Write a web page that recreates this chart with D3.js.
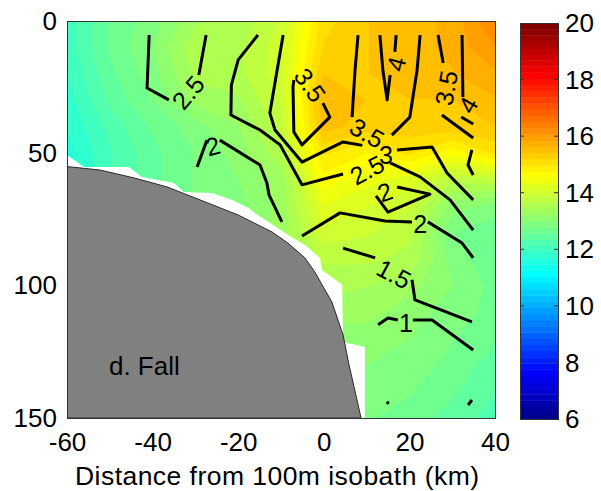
<!DOCTYPE html>
<html>
<head>
<meta charset="utf-8">
<script src="https://cdn.jsdelivr.net/npm/d3@7"></script>
<style>
  body { margin: 0; background: #fff; }
</style>
</head>
<body>
<script>
// temperature section (filled), km from the 100 m isobath vs depth
const kmGrid = [-60, -50, -40, -30, -20, -10, 0, 10, 20, 30, 40];
const depthGrid = [0, 10, 20, 30, 40, 50, 60, 70, 80, 90, 100, 110, 120, 130, 140, 150];
const tempGrid = [
  [12.0, 12.6, 12.9, 13.4, 13.5, 13.9, 15.1, 15.4, 15.5, 15.7, 16.3],
  [12.0, 12.6, 13.0, 13.6, 13.6, 14.0, 15.2, 15.4, 15.5, 15.7, 16.05],
  [11.9, 12.5, 12.9, 13.5, 13.6, 14.0, 15.4, 15.4, 15.5, 15.6, 15.8],
  [11.8, 12.4, 12.8, 13.3, 13.4, 13.9, 15.6, 15.4, 15.4, 15.4, 15.6],
  [11.7, 12.2, 12.6, 12.9, 13.2, 13.8, 15.5, 15.3, 15.3, 15.3, 15.4],
  [11.6, 12.1, 12.5, 12.8, 13.1, 13.6, 15.0, 14.75, 15.0, 14.6, 15.0],
  [11.6, 12.1, 12.5, 12.8, 13.0, 13.3, 14.65, 14.4, 14.2, 13.7, 13.8],
  [11.6, 12.1, 12.5, 12.8, 12.9, 13.3, 14.3, 14.1, 13.9, 13.1, 12.9],
  [11.6, 12.1, 12.5, 12.8, 12.9, 13.3, 14.0, 13.9, 13.7, 12.8, 12.6],
  [11.6, 12.1, 12.5, 12.8, 12.9, 13.2, 13.7, 13.7, 13.6, 12.9, 12.6],
  [11.6, 12.1, 12.5, 12.8, 12.9, 13.1, 13.5, 13.45, 13.3, 13.0, 12.7],
  [11.6, 12.1, 12.5, 12.8, 12.9, 13.0, 13.3, 13.3, 13.1, 12.9, 12.7],
  [11.6, 12.1, 12.5, 12.8, 12.9, 13.0, 13.1, 13.1, 13.0, 12.8, 12.6],
  [11.6, 12.1, 12.5, 12.8, 12.9, 12.9, 13.0, 13.0, 12.9, 12.7, 12.45],
  [11.6, 12.1, 12.5, 12.8, 12.9, 12.9, 12.9, 12.9, 12.8, 12.6, 12.35],
  [11.6, 12.1, 12.5, 12.8, 12.8, 12.8, 12.8, 12.8, 12.7, 12.45, 12.25]
];

// no-data area above the bottom, and the bottom itself
const noDataEdge = [[-60, 50.6], [-56.0, 55.2], [-45.5, 55.2], [-42.5, 58.9], [-35.0, 61.2], [-32.7, 64.6],
  [-26.1, 65.0], [-21.4, 67.6], [-17.7, 70.6], [-15.4, 73.3], [-8.4, 80.8], [-4.4, 84.6], [-0.9, 89.5],
  [-0.4, 94.1], [4.3, 99.7], [4.5, 121.3], [9.6, 123.2], [9.6, 150]];
const bottomEdge = [[-60, 55.0], [-52.3, 56.3], [-44.3, 59.3], [-36.6, 62.7], [-28.9, 67.6], [-20.0, 73.3],
  [-12.1, 79.7], [-8.4, 83.9], [-4.4, 89.5], [-2.1, 94.8], [-0.4, 99.7], [1.9, 106.2], [4.5, 118.6],
  [5.9, 130.0], [7.5, 141.3], [8.7, 150]];

// black contour lines (pieces between labels)
const iso25WestA = [[-40.8, 5.3], [-41.3, 25.3], [-36.2, 29.8]];
const iso25WestB = [[-29.2, 20.4], [-27.5, 5.3]];
const iso2WestA = [[-29.6, 55.2], [-27.3, 45.0]];
const iso2WestB = [[-24.3, 45.0], [-14.9, 54.4], [-13.3, 61.2], [-12.8, 65.7], [-9.8, 75.9]];
const iso25MidA = [[-15.4, 5.3], [-20.0, 14.7], [-21.6, 24.2], [-21.7, 35.5], [-14.9, 41.2], [-10.2, 46.8], [-5.1, 61.9], [4.5, 57.8]];
const iso25MidB = [[15.5, 53.6], [22.5, 58.9], [29.5, 67.6], [34.9, 79.0]];
const iso3A = [[-9.5, 5.3], [-10.9, 18.5], [-12.6, 34.8], [-11.4, 41.2], [-5.1, 53.3], [4.5, 45.7], [9.0, 47.0]];
const iso3B = [[17.1, 48.7], [25.3, 47.6], [28.8, 57.4], [34.9, 67.6]];
const iso35Loop = [[-0.2, 31.0], [1.4, 36.3], [-5.1, 46.8], [-7.0, 41.9], [-7.2, 24.9], [-7.0, 22.3]];
const iso35UA = [[8.0, 5.3], [7.3, 18.5], [6.6, 36.3]];
const iso35UB = [[15.9, 43.1], [20.1, 36.3], [21.8, 18.5], [22.5, 5.3]];
const iso4VA = [[13.1, 5.3], [13.8, 18.5], [14.8, 29.8], [15.5, 20.4]];
const iso4VB = [[16.6, 11.7], [16.9, 5.3]];
const iso35EastA = [[26.7, 5.3], [27.9, 15.9]];
const iso35EastB = [[27.6, 35.5], [34.9, 44.2]];
const iso4EastA = [[32.3, 5.3], [32.5, 28.7]];
const iso4EastB = [[32.1, 36.3], [34.9, 38.9]];
const iso3East = [[34.6, 48.7], [33.7, 54.4], [34.9, 58.2]];
const iso2Tri = [[17.1, 62.7], [24.8, 65.4], [15.0, 72.2], [12.2, 66.1]];
const iso2EastA = [[-5.1, 81.2], [3.8, 72.5], [14.3, 75.6], [20.6, 75.9]];
const iso2EastB = [[24.3, 75.9], [32.3, 83.9], [34.9, 89.5]];
const iso15A = [[4.5, 85.8], [12.0, 89.5]];
const iso15B = [[20.6, 97.8], [21.3, 105.4], [34.6, 113.7]];
const iso1A = [[12.7, 114.8], [15.0, 112.2], [17.3, 113.0]];
const iso1B = [[20.8, 113.0], [25.3, 113.0], [34.9, 124.3]];
const isoBits = [[[14.7, 143.9], [15.2, 144.6]], [[33.7, 145.1], [34.6, 143.2]]];

// contour labels: text, km, depth, angle
const isoLabels = [
  ['2.5', -31.7, 27.0, -50], ['2', -25.9, 47.2, -15], ['2.5', 10.1, 56.3, -28],
  ['3', 14.5, 50.6, 0], ['3.5', -3.2, 24.2, 55], ['3.5', 10.1, 42.3, 30],
  ['4', 16.9, 16.2, -75], ['3.5', 28.6, 25.3, -80], ['4', 33.7, 31.7, -60],
  ['2', 14.3, 64.6, -20], ['2', 22.5, 76.7, 0], ['1.5', 16.4, 95.6, 28], ['1', 19.2, 114.1, 0]
];

const xTicks = [-60, -40, -20, 0, 20, 40];
const yTicks = [0, 50, 100, 150];
const cbTicks = [6, 8, 10, 12, 14, 16, 18, 20];
const cLim = [6, 20];

const width = 601;
const height = 491;
const FONT = '"Liberation Sans", Arial, Helvetica, sans-serif';

// matlab jet(64)
function jet64() {
  const out = [];
  for (let row = 1; row <= 64; row++) {
    let r = 0, g = 0, b = 0;
    if (row >= 25 && row <= 40) r = (row - 24) / 16;
    else if (row >= 41 && row <= 55) r = 1;
    else if (row >= 56) r = (72 - row) / 16;
    if (row >= 9 && row <= 24) g = (row - 8) / 16;
    else if (row >= 25 && row <= 39) g = 1;
    else if (row >= 40 && row <= 55) g = (56 - row) / 16;
    if (row <= 8) b = (row + 8) / 16;
    else if (row <= 23) b = 1;
    else if (row <= 39) b = (40 - row) / 16;
    out.push(d3.rgb(r * 255, g * 255, b * 255).formatHex());
  }
  return out;
}
const jet = jet64();
const step = (cLim[1] - cLim[0]) / jet.length;

const svg = d3.select('body').append('svg')
  .attr('width', width)
  .attr('height', height);

const x = d3.scaleLinear().domain([-60, 40]).range([67, 495]);
const y = d3.scaleLinear().domain([0, 150]).range([21, 418]);

svg.append('clipPath').attr('id', 'plot')
  .append('rect')
  .attr('x', x(-60)).attr('y', y(0))
  .attr('width', x(40) - x(-60)).attr('height', y(150) - y(0));

const plot = svg.append('g').attr('clip-path', 'url(#plot)');

// filled contours
const nx = kmGrid.length, ny = depthGrid.length;
const gx = d3.scaleLinear().domain([0.5, nx - 0.5]).range([x(kmGrid[0]), x(kmGrid[nx - 1])]);
const gy = d3.scaleLinear().domain([0.5, ny - 0.5]).range([y(depthGrid[0]), y(depthGrid[ny - 1])]);
const gridPath = d3.geoPath(d3.geoTransform({
  point(px, py) { this.stream.point(gx(px), gy(py)); }
}));
const thresholds = jet.map((c, k) => cLim[0] + k * step);
const bands = d3.contours().size([nx, ny]).thresholds(thresholds)(tempGrid.flat());

plot.selectAll('path.band')
  .data(bands)
  .join('path')
  .attr('class', 'band')
  .attr('d', gridPath)
  .attr('fill', (d, i) => jet[i])
  .attr('stroke', (d, i) => jet[i])
  .attr('stroke-width', 0.6);

// masked + bottom
const area = d3.line().x(d => x(d[0])).y(d => y(d[1]));
plot.append('path')
  .attr('d', area(noDataEdge.concat([[-60, 150]])) + 'Z')
  .attr('fill', '#fff');
plot.append('path')
  .attr('d', area(bottomEdge.concat([[-60, 150]])) + 'Z')
  .attr('fill', '#808080')
  .attr('stroke', '#2a2a2a')
  .attr('stroke-width', 1);

// contour lines
const pieces = [iso25WestA, iso25WestB, iso2WestA, iso2WestB, iso25MidA, iso25MidB, iso3A, iso3B,
  iso35Loop, iso35UA, iso35UB, iso4VA, iso4VB, iso35EastA, iso35EastB, iso4EastA, iso4EastB,
  iso3East, iso2Tri, iso2EastA, iso2EastB, iso15A, iso15B, iso1A, iso1B].concat(isoBits);

plot.selectAll('path.iso')
  .data(pieces)
  .join('path')
  .attr('class', 'iso')
  .attr('d', area)
  .attr('fill', 'none')
  .attr('stroke', '#000')
  .attr('stroke-width', 3)
  .attr('stroke-linejoin', 'round');

plot.selectAll('text.iso')
  .data(isoLabels)
  .join('text')
  .attr('class', 'iso')
  .attr('transform', d => `translate(${x(d[1])},${y(d[2])}) rotate(${d[3]})`)
  .attr('text-anchor', 'middle')
  .attr('dy', '0.36em')
  .attr('font-family', FONT)
  .attr('font-size', 25)
  .text(d => d[0]);

svg.append('text')
  .attr('x', x(-50.2)).attr('y', y(133.7))
  .attr('font-family', FONT)
  .attr('font-size', 26)
  .text('d. Fall');

// frame
svg.append('rect')
  .attr('x', x(-60) + 0.5).attr('y', y(0) + 0.5)
  .attr('width', x(40) - x(-60)).attr('height', y(150) - y(0))
  .attr('fill', 'none')
  .attr('stroke', '#333');

const xAxis = svg.append('g')
  .attr('transform', `translate(0, ${y(150)})`)
  .call(d3.axisBottom(x).tickValues(xTicks).tickSize(0).tickPadding(15).tickFormat(d => String(d)));
const yAxis = svg.append('g')
  .attr('transform', `translate(${x(-60)}, 0)`)
  .call(d3.axisLeft(y).tickValues(yTicks).tickSize(0).tickPadding(10).tickFormat(d => String(d)));
[xAxis, yAxis].forEach(g => {
  g.select('.domain').remove();
  g.attr('font-family', FONT).attr('font-size', 26);
  g.selectAll('text').attr('fill', '#000');
});

svg.append('text')
  .attr('x', 277)
  .attr('y', 485)
  .attr('text-anchor', 'middle')
  .attr('font-family', FONT)
  .attr('font-size', 26.5)
  .attr('textLength', 404)
  .attr('lengthAdjust', 'spacing')
  .text('Distance from 100m isobath (km)');

// colorbar
const cbX = 520, cbW = 38;
const cy = d3.scaleLinear().domain(cLim).range([419, 23]);
const cbar = svg.append('g');
cbar.selectAll('rect.cb')
  .data(jet)
  .join('rect')
  .attr('class', 'cb')
  .attr('x', cbX)
  .attr('y', (d, i) => cy(cLim[0] + (i + 1) * step))
  .attr('width', cbW)
  .attr('height', (d, i) => cy(cLim[0] + i * step) - cy(cLim[0] + (i + 1) * step) + 0.4)
  .attr('fill', d => d);
cbar.append('rect')
  .attr('x', cbX + 0.5).attr('y', cy(cLim[1]) + 0.5)
  .attr('width', cbW).attr('height', cy(cLim[0]) - cy(cLim[1]))
  .attr('fill', 'none')
  .attr('stroke', '#333');
cbar.selectAll('line.tl')
  .data(cbTicks.slice(1, -1))
  .join('line')
  .attr('class', 'tl')
  .attr('x1', cbX).attr('x2', cbX + 4)
  .attr('y1', d => cy(d)).attr('y2', d => cy(d))
  .attr('stroke', '#333');
cbar.selectAll('line.tr')
  .data(cbTicks.slice(1, -1))
  .join('line')
  .attr('class', 'tr')
  .attr('x1', cbX + cbW - 4).attr('x2', cbX + cbW)
  .attr('y1', d => cy(d)).attr('y2', d => cy(d))
  .attr('stroke', '#333');
cbar.selectAll('text')
  .data(cbTicks)
  .join('text')
  .attr('x', 565)
  .attr('y', d => cy(d))
  .attr('dy', '0.35em')
  .attr('font-family', FONT)
  .attr('font-size', 26)
  .text(d => d);
</script>
</body>
</html>
